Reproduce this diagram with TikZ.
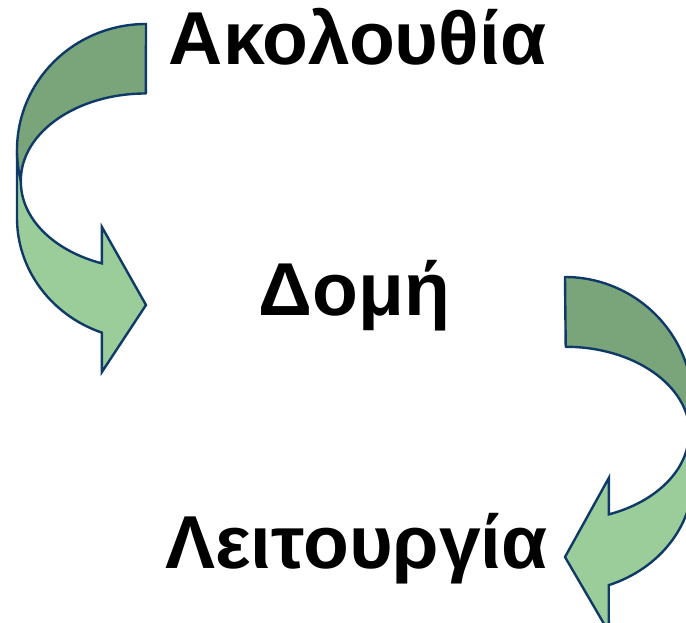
\documentclass[tikz,border=0pt]{standalone}
\usepackage{fontspec}
\setmainfont{Liberation Sans}
\definecolor{bandDark}{HTML}{7AA57B}
\definecolor{bandLight}{HTML}{9BCD9A}
\definecolor{bandLine}{HTML}{0F3A68}
\tikzset{
  darkpart/.style={fill=bandDark, draw=bandLine, line width=2.4pt, line join=round},
  lightpart/.style={fill=bandLight, draw=bandLine, line width=2.4pt, line join=miter},
  word/.style={anchor=base, inner sep=0pt, font=\fontsize{75}{82}\selectfont\bfseries},
}
\begin{document}
\begin{tikzpicture}[x=1pt, y=1pt]
\useasboundingbox (0,0) rectangle (686,-623);
\clip (0,0) rectangle (686,-623);
% left curved arrow
\draw[lightpart] (17,-150) -- (17,-218)
  arc[start angle=180, end angle=250, x radius=129, y radius=122]
  -- (101.9,-372) -- (146,-305) -- (101.9,-227) -- (101.9,-263.4)
  arc[start angle=249.4, end angle=180, x radius=125, y radius=87]
  -- cycle;
\draw[darkpart] (146,-24)
  arc[start angle=90, end angle=194, x radius=129, y radius=126]
  arc[start angle=180, end angle=90, x radius=125, y radius=87]
  -- cycle;
% right curved arrow
\draw[lightpart] (693,-405) -- (693,-478)
  arc[start angle=0, end angle=-70, x radius=128, y radius=114]
  -- (608.8,-632) -- (565,-557) -- (608.8,-478) -- (608.8,-514.4)
  arc[start angle=-69.3, end angle=0, x radius=124, y radius=87]
  -- cycle;
\draw[darkpart] (565,-277)
  arc[start angle=90, end angle=-13, x radius=128, y radius=128]
  arc[start angle=0, end angle=90, x radius=124, y radius=87]
  -- cycle;
% texts
\node[word] (t1) at (357.5,-65) {Ακολουθία};
\node[word] (t2) at (354.5,-315) {Δομή};
\node[word] (t3) at (356.5,-568) {Λειτουργία};
\end{tikzpicture}
\end{document}
